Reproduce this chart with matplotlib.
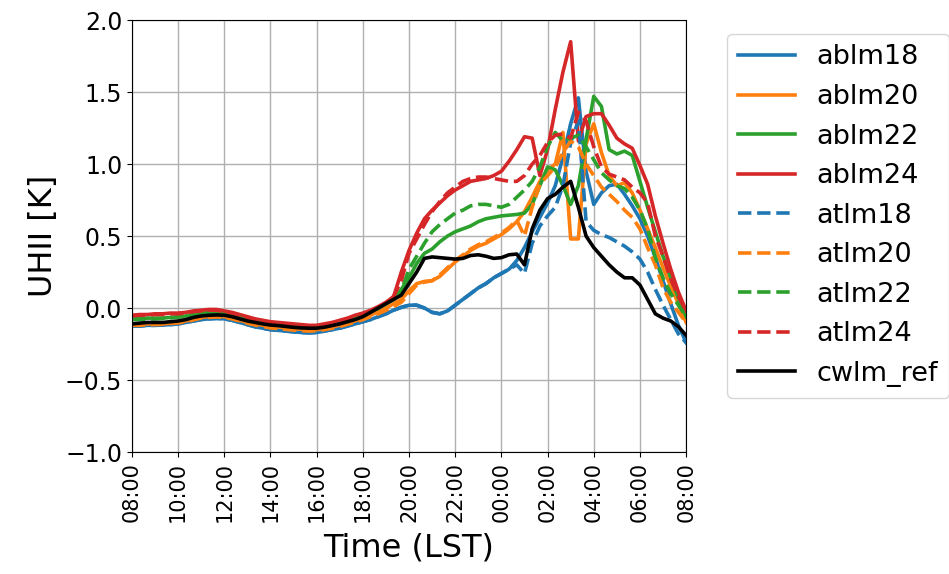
import numpy as np
import matplotlib
matplotlib.use("Agg")
import matplotlib.pyplot as plt

# time axis: hours since 08:00 LST, 20 min steps
hours = np.arange(73) / 3.0
tick_labels = ['08:00', '10:00', '12:00', '14:00', '16:00', '18:00', '20:00',
               '22:00', '00:00', '02:00', '04:00', '06:00', '08:00']

ablm18 = [-0.125, -0.125, -0.12, -0.12, -0.118, -0.115, -0.11, -0.10, -0.09, -0.08, -0.075, -0.072,
          -0.075, -0.085, -0.10, -0.115, -0.13, -0.14, -0.15, -0.155, -0.16, -0.165, -0.17, -0.172,
          -0.17, -0.16, -0.15, -0.14, -0.125, -0.11, -0.095, -0.08, -0.06, -0.04, -0.015, 0.005,
          0.02, 0.02, 0.0, -0.03, -0.04, -0.02, 0.02, 0.06, 0.10, 0.14, 0.17, 0.21,
          0.24, 0.27, 0.33, 0.42, 0.53, 0.63, 0.73, 0.85, 1.05, 1.28, 1.46, 0.95,
          0.72, 0.80, 0.85, 0.86, 0.79, 0.71, 0.62, 0.50, 0.35, 0.19, 0.03, -0.12, -0.24]
ablm20 = [-0.115, -0.115, -0.11, -0.11, -0.11, -0.105, -0.10, -0.09, -0.075, -0.065, -0.06, -0.058,
          -0.06, -0.07, -0.085, -0.10, -0.11, -0.12, -0.128, -0.132, -0.138, -0.144, -0.148, -0.15,
          -0.15, -0.143, -0.132, -0.12, -0.105, -0.09, -0.07, -0.05, -0.025, 0.0, 0.03, 0.06,
          0.12, 0.17, 0.185, 0.19, 0.22, 0.27, 0.32, 0.36, 0.40, 0.43, 0.45, 0.48,
          0.51, 0.55, 0.60, 0.67, 0.77, 0.88, 0.96, 1.00, 1.22, 0.48, 0.48, 1.14,
          1.28, 1.08, 0.92, 0.85, 0.87, 0.80, 0.68, 0.55, 0.42, 0.28, 0.15, 0.03, -0.10]
ablm22 = [-0.075, -0.075, -0.07, -0.07, -0.07, -0.065, -0.06, -0.055, -0.045, -0.035, -0.03, -0.028,
          -0.03, -0.04, -0.055, -0.07, -0.085, -0.095, -0.105, -0.11, -0.115, -0.12, -0.125, -0.128,
          -0.128, -0.12, -0.108, -0.095, -0.08, -0.065, -0.045, -0.025, 0.0, 0.03, 0.06, 0.13,
          0.21, 0.31, 0.38, 0.41, 0.46, 0.50, 0.53, 0.55, 0.57, 0.60, 0.62, 0.63,
          0.64, 0.645, 0.65, 0.66, 0.72, 0.85, 0.98, 0.96, 0.85, 0.72, 0.85, 1.17,
          1.47, 1.40, 1.10, 1.07, 1.09, 1.06, 0.88, 0.70, 0.53, 0.36, 0.21, 0.07, -0.06]
ablm24 = [-0.05, -0.045, -0.045, -0.04, -0.04, -0.035, -0.035, -0.03, -0.02, -0.015, -0.01, -0.01,
          -0.02, -0.03, -0.045, -0.06, -0.075, -0.085, -0.095, -0.10, -0.105, -0.11, -0.115, -0.12,
          -0.12, -0.11, -0.10, -0.085, -0.07, -0.05, -0.035, -0.015, 0.01, 0.04, 0.08, 0.25,
          0.40, 0.52, 0.62, 0.68, 0.73, 0.78, 0.82, 0.85, 0.88, 0.89, 0.90, 0.92,
          0.95, 1.02, 1.10, 1.19, 1.18, 0.92, 1.10, 1.38, 1.64, 1.85, 1.16, 1.33,
          1.35, 1.35, 1.27, 1.18, 1.14, 1.11, 0.99, 0.86, 0.64, 0.45, 0.27, 0.11, -0.02]
atlm18 = [-0.125, -0.125, -0.12, -0.12, -0.118, -0.115, -0.11, -0.10, -0.09, -0.08, -0.075, -0.072,
          -0.075, -0.085, -0.10, -0.115, -0.13, -0.14, -0.15, -0.155, -0.16, -0.165, -0.17, -0.172,
          -0.17, -0.16, -0.15, -0.14, -0.125, -0.11, -0.095, -0.08, -0.06, -0.04, -0.015, 0.005,
          0.02, 0.02, 0.0, -0.03, -0.04, -0.02, 0.02, 0.06, 0.10, 0.14, 0.17, 0.21,
          0.24, 0.27, 0.30, 0.24, 0.45, 0.57, 0.64, 0.70, 0.85, 1.15, 1.30, 0.60,
          0.54, 0.51, 0.49, 0.46, 0.43, 0.39, 0.34, 0.25, 0.13, 0.02, -0.08, -0.18, -0.24]
atlm20 = [-0.12, -0.12, -0.115, -0.115, -0.112, -0.108, -0.103, -0.095, -0.082, -0.07, -0.065, -0.062,
          -0.065, -0.075, -0.09, -0.105, -0.118, -0.128, -0.138, -0.143, -0.148, -0.153, -0.157, -0.16,
          -0.158, -0.15, -0.14, -0.128, -0.113, -0.098, -0.08, -0.06, -0.04, -0.015, 0.01, 0.04,
          0.10, 0.16, 0.18, 0.19, 0.23, 0.28, 0.33, 0.37, 0.41, 0.44, 0.46, 0.49,
          0.52, 0.56, 0.61, 0.50, 0.70, 0.86, 0.92, 0.98, 1.08, 1.16, 1.12, 1.00,
          0.92, 0.84, 0.79, 0.74, 0.68, 0.63, 0.55, 0.42, 0.30, 0.14, 0.04, -0.03, -0.10]
atlm22 = [-0.08, -0.08, -0.075, -0.075, -0.072, -0.068, -0.063, -0.057, -0.047, -0.038, -0.033, -0.03,
          -0.033, -0.043, -0.058, -0.073, -0.088, -0.098, -0.108, -0.113, -0.118, -0.123, -0.128, -0.13,
          -0.13, -0.122, -0.11, -0.097, -0.082, -0.066, -0.047, -0.027, -0.002, 0.03, 0.06, 0.12,
          0.27, 0.36, 0.45, 0.53, 0.58, 0.62, 0.66, 0.68, 0.71, 0.72, 0.72, 0.71,
          0.70, 0.72, 0.77, 0.82, 0.88, 0.98, 1.12, 1.22, 1.16, 1.18, 1.20, 1.12,
          1.03, 0.94, 0.89, 0.85, 0.83, 0.77, 0.68, 0.55, 0.35, 0.21, 0.10, 0.02, -0.06]
atlm24 = [-0.055, -0.05, -0.05, -0.045, -0.045, -0.04, -0.04, -0.035, -0.025, -0.02, -0.015, -0.015,
          -0.025, -0.035, -0.05, -0.065, -0.08, -0.09, -0.10, -0.105, -0.11, -0.115, -0.12, -0.125,
          -0.125, -0.115, -0.105, -0.09, -0.075, -0.055, -0.04, -0.02, 0.005, 0.035, 0.08, 0.19,
          0.38, 0.48, 0.58, 0.67, 0.74, 0.80, 0.84, 0.88, 0.90, 0.91, 0.91, 0.90,
          0.89, 0.88, 0.88, 0.92, 1.00, 1.06, 1.15, 1.20, 1.21, 1.18, 1.36, 1.30,
          1.12, 0.98, 0.93, 0.91, 0.89, 0.84, 0.80, 0.73, 0.50, 0.36, 0.20, 0.08, -0.02]
cwlm_ref = [-0.11, -0.105, -0.10, -0.10, -0.10, -0.095, -0.09, -0.08, -0.065, -0.055, -0.05, -0.048,
            -0.05, -0.06, -0.075, -0.09, -0.10, -0.11, -0.118, -0.122, -0.128, -0.134, -0.138, -0.14,
            -0.14, -0.133, -0.122, -0.11, -0.095, -0.08, -0.06, -0.03, 0.0, 0.03, 0.06, 0.09,
            0.17, 0.25, 0.345, 0.355, 0.35, 0.345, 0.34, 0.345, 0.365, 0.37, 0.36, 0.345,
            0.35, 0.37, 0.375, 0.30, 0.55, 0.68, 0.76, 0.79, 0.84, 0.88, 0.70, 0.50,
            0.42, 0.36, 0.30, 0.25, 0.21, 0.21, 0.16, 0.06, -0.04, -0.07, -0.09, -0.13, -0.19]

names = ['ablm18', 'ablm20', 'ablm22', 'ablm24', 'atlm18', 'atlm20', 'atlm22', 'atlm24', 'cwlm_ref']
series = [ablm18, ablm20, ablm22, ablm24, atlm18, atlm20, atlm22, atlm24, cwlm_ref]
colors = ['tab:blue', 'tab:orange', 'tab:green', 'tab:red'] * 2 + ['black']
styles = ['-'] * 4 + ['--'] * 4 + ['-']

fig = plt.figure(figsize=(9.49, 5.74), dpi=100)
ax = fig.add_axes([0.139, 0.2125, 0.584, 0.7525])

for name, vals, c, ls in zip(names, series, colors, styles):
    ax.plot(hours, vals, color=c, linestyle=ls, linewidth=2.6, label=name)

ax.set_xlim(0, 24)
ax.set_ylim(-1.0, 2.0)
ax.set_xticks(np.arange(0, 25, 2))
ax.set_xticklabels(tick_labels, rotation=90, fontsize=15)
ax.tick_params(axis='y', labelsize=17)
ax.set_xlabel('Time (LST)', fontsize=23, labelpad=8)
ax.set_ylabel('UHII [K]', fontsize=23)
ax.grid(True, color='#b0b0b0', linewidth=1)

ax.legend(loc='upper left', bbox_to_anchor=(1.05, 1.0), fontsize=19.5,
          handlelength=2.1, labelspacing=0.5)

fig.savefig('out.png', dpi=100)
